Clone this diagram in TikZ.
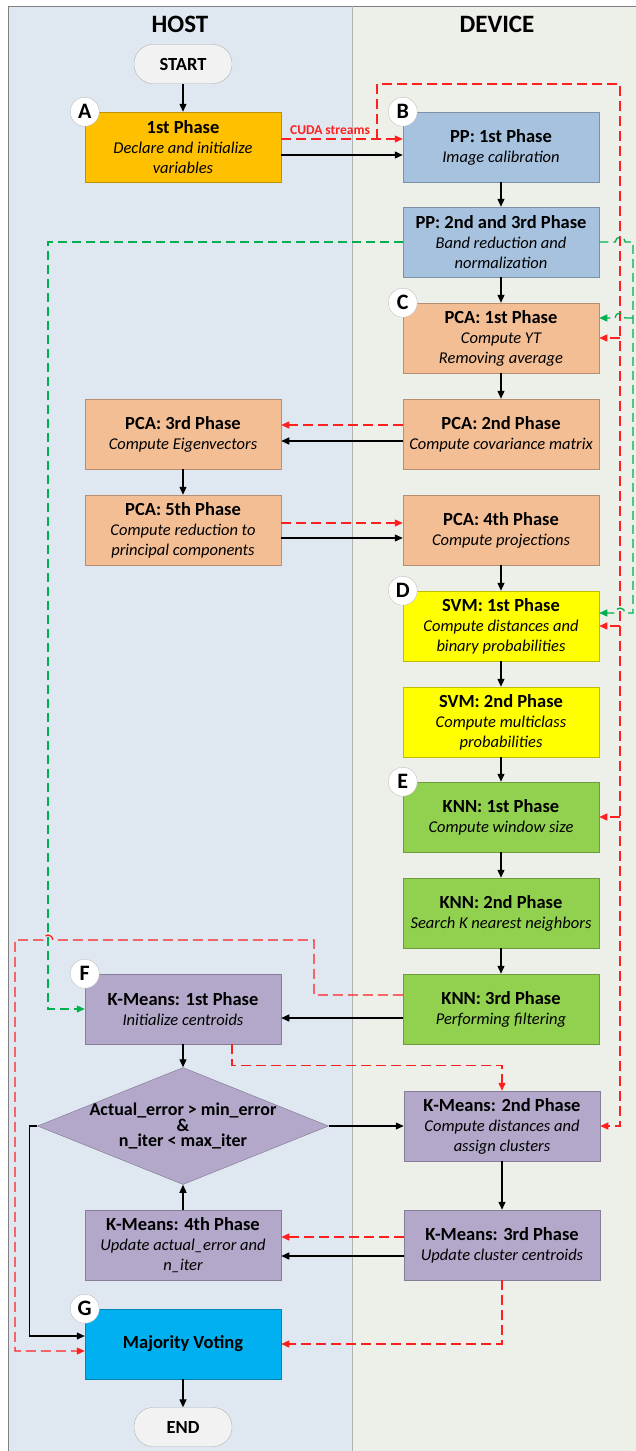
\documentclass[tikz,border=0pt]{standalone}
\usepackage{fontspec}
\setmainfont{Carlito}
\usetikzlibrary{arrows.meta,shapes.geometric}
\definecolor{hostbg}{HTML}{DFE8F1}
\definecolor{devbg}{HTML}{EDF0E8}
\definecolor{phaseA}{HTML}{FFC000}
\definecolor{ppblue}{HTML}{A7C2DE}
\definecolor{pcaorange}{HTML}{F4BE95}
\definecolor{svmyellow}{HTML}{FFFF00}
\definecolor{knngreen}{HTML}{92D050}
\definecolor{kmpurple}{HTML}{B3A8C9}
\definecolor{mvblue}{HTML}{00B0F0}
\definecolor{termgray}{HTML}{F2F2F2}
\definecolor{cudared}{HTML}{FF1F1F}
\definecolor{streamgreen}{HTML}{00B050}
\newcommand{\phtitle}[1]{{\upshape\bfseries\fontsize{18.5}{20}\selectfont #1}}
\begin{document}
\begin{tikzpicture}[x=1pt, y=-1pt,
	phase/.style={fill=#1, draw=#1!75!black, line width=0.5pt, minimum width=196pt, minimum height=70pt, inner sep=0pt, align=center, font=\itshape\fontsize{16.5}{20}\selectfont},
	decision/.style={diamond, fill=kmpurple, draw=kmpurple!75!black, line width=0.5pt, aspect=2.49, minimum width=291pt, minimum height=117pt, inner sep=-3pt, align=center, font=\bfseries\fontsize{18}{15.5}\selectfont},
	term/.style={draw=gray!60, fill=termgray, rounded corners=19pt, minimum width=98pt, minimum height=39pt, font=\bfseries\fontsize{18.5}{20}\selectfont},
	tag/.style={circle, draw=gray!50, fill=white, minimum size=29pt, inner sep=0pt, font=\bfseries\fontsize{22}{22}\selectfont},
	lane/.style={font=\bfseries\fontsize{25}{25}\selectfont},
	arr/.style={draw=black, line width=1.3pt, -{Triangle[length=8pt,width=7pt]}},
	rdash/.style={draw=cudared, line width=1.3pt, dash pattern=on 10pt off 5pt, -{Triangle[length=8pt,width=7pt]}},
	gdash/.style={draw=streamgreen, line width=1.3pt, dash pattern=on 9pt off 5pt, -{Triangle[length=8pt,width=7pt]}}]
	\useasboundingbox (0,0) rectangle (636,1451);
	\fill[hostbg] (8,6) rectangle (352,1460);
	\fill[devbg] (352,6) rectangle (640,1460);
	\draw[gray, line width=0.8pt] (8,1460) -- (8,6) -- (640,6);
	\draw[gray!60, line width=0.8pt] (352,6) -- (352,1460);
	\node[lane] (host) at (180,24) {HOST};
	\node[lane] (device) at (497,24) {DEVICE};
	\node[term] (start) at (183,64) {START};
	\node[phase=phaseA] (a1) at (183,147) {\phtitle{1st Phase}\\Declare and initialize\\variables};
	\node[phase=ppblue] (pp1) at (501,147) {\phtitle{PP: 1st Phase}\\Image calibration};
	\node[phase=ppblue] (pp2) at (501,242) {\phtitle{PP: 2nd and 3rd Phase}\\Band reduction and\\normalization};
	\node[phase=pcaorange] (pca1) at (501,338) {\phtitle{PCA: 1st Phase}\\Compute YT\\Removing average};
	\node[phase=pcaorange] (pca2) at (501,434) {\phtitle{PCA: 2nd Phase}\\Compute covariance matrix};
	\node[phase=pcaorange] (pca3) at (183,434) {\phtitle{PCA: 3rd Phase}\\Compute Eigenvectors};
	\node[phase=pcaorange] (pca5) at (183,530) {\phtitle{PCA: 5th Phase}\\Compute reduction to\\principal components};
	\node[phase=pcaorange] (pca4) at (501,530) {\phtitle{PCA: 4th Phase}\\Compute projections};
	\node[phase=svmyellow] (svm1) at (501,626) {\phtitle{SVM: 1st Phase}\\Compute distances and\\binary probabilities};
	\node[phase=svmyellow] (svm2) at (501,722) {\phtitle{SVM: 2nd Phase}\\Compute multiclass\\probabilities};
	\node[phase=knngreen] (knn1) at (501,817) {\phtitle{KNN: 1st Phase}\\Compute window size};
	\node[phase=knngreen] (knn2) at (501,913) {\phtitle{KNN: 2nd Phase}\\Search K nearest neighbors};
	\node[phase=knngreen] (knn3) at (501,1009) {\phtitle{KNN: 3rd Phase}\\Performing filtering};
	\node[phase=kmpurple] (km1) at (183,1009) {\phtitle{K-Means: 1st Phase}\\Initialize centroids};
	\node[decision] (cond) at (183,1126) {Actual\_error > min\_error\\\&\\n\_iter < max\_iter};
	\node[phase=kmpurple] (km2) at (502,1126) {\phtitle{K-Means: 2nd Phase}\\Compute distances and\\assign clusters};
	\node[phase=kmpurple] (km3) at (502,1245) {\phtitle{K-Means: 3rd Phase}\\Update cluster centroids};
	\node[phase=kmpurple] (km4) at (183,1245) {\phtitle{K-Means: 4th Phase}\\Update actual\_error and\\n\_iter};
	\node[phase=mvblue] (mv) at (183,1344) {\phtitle{Majority Voting}};
	\node[term] (stop) at (183,1427) {END};
	\node[tag] (tA) at (a1.north west) {A};
	\node[tag] (tB) at (pp1.north west) {B};
	\node[tag] (tC) at (pca1.north west) {C};
	\node[tag] (tD) at (svm1.north west) {D};
	\node[tag] (tE) at (knn1.north west) {E};
	\node[tag] (tF) at (km1.north west) {F};
	\node[tag] (tG) at (mv.north west) {G};
	\node[text=cudared, font=\bfseries\fontsize{13.5}{14}\selectfont] (cuda) at (330,130) {CUDA streams};
	\draw[arr] (start) -- (a1);
	\draw[arr] ([yshift=-8pt]a1.east) -- ([yshift=-8pt]pp1.west);
	\draw[arr] (pp1) -- (pp2);
	\draw[arr] (pp2) -- (pca1);
	\draw[arr] (pca1) -- (pca2);
	\draw[arr] ([yshift=-7pt]pca2.west) -- ([yshift=-7pt]pca3.east);
	\draw[arr] (pca3) -- (pca5);
	\draw[arr] ([yshift=-8pt]pca5.east) -- ([yshift=-8pt]pca4.west);
	\draw[arr] (pca4) -- (svm1);
	\draw[arr] (svm1) -- (svm2);
	\draw[arr] (svm2) -- (knn1);
	\draw[arr] (knn1) -- (knn2);
	\draw[arr] (knn2) -- (knn3);
	\draw[arr] ([yshift=-9pt]knn3.west) -- ([yshift=-9pt]km1.east);
	\draw[arr] (km1) -- (cond);
	\draw[arr] (cond) -- (km2);
	\draw[arr] (km2) -- (km3);
	\draw[arr] ([yshift=-11pt]km3.west) -- ([yshift=-11pt]km4.east);
	\draw[arr] (km4) -- (cond);
	\draw[arr] (cond.west) -- ++(-8,0) |- ([yshift=8pt]mv.west);
	\draw[arr] (mv) -- (stop);
	\coordinate (rsplit) at (377,139);
	\coordinate (rbus) at (620,84);
	\draw[rdash] ([yshift=8pt]a1.east) -- ([yshift=8pt]pp1.west);
	\draw[rdash] (rsplit) |- (rbus) |- (km2.east);
	\draw[rdash] (rbus |- pca1.east) -- (pca1.east);
	\draw[rdash] (rbus |- svm1.east) -- (svm1.east);
	\draw[rdash] (rbus |- knn1.east) -- (knn1.east);
	\draw[rdash] ([yshift=9pt]pca2.west) -- ([yshift=9pt]pca3.east);
	\draw[rdash] ([yshift=7pt]pca5.east) -- ([yshift=7pt]pca4.west);
	\draw[rdash] ([yshift=14pt]knn3.west) -- (314,995) -- (314,940) -- (53,940) arc[start angle=0, end angle=180, radius=5pt] -- (15,940) |- ([yshift=-7pt]mv.west);
	\draw[rdash] ([xshift=49pt]km1.south) -- ++(0,21) -| (km2.north);
	\draw[rdash] ([yshift=8pt]km3.west) -- ([yshift=8pt]km4.east);
	\draw[rdash] (km3.south) |- (mv.east);
	\coordinate (gbus) at (633,242);
	\coordinate (g1) at ([yshift=20pt]pca1.east);
	\coordinate (g2) at ([yshift=13pt]svm1.east);
	\draw[gdash] (pp2.west) -- (48,242) |- (km1.west);
	\draw[gdash] (pp2.east) -- ++(16,0) arc[start angle=180, end angle=0, radius=5pt] -- (gbus) -- (gbus |- g2) -- ++(-8,0) arc[start angle=0, end angle=180, radius=5pt] -- (g2);
	\draw[gdash] (gbus |- g1) -- ++(-8,0) arc[start angle=0, end angle=180, radius=5pt] -- (g1);
\end{tikzpicture}
\end{document}
